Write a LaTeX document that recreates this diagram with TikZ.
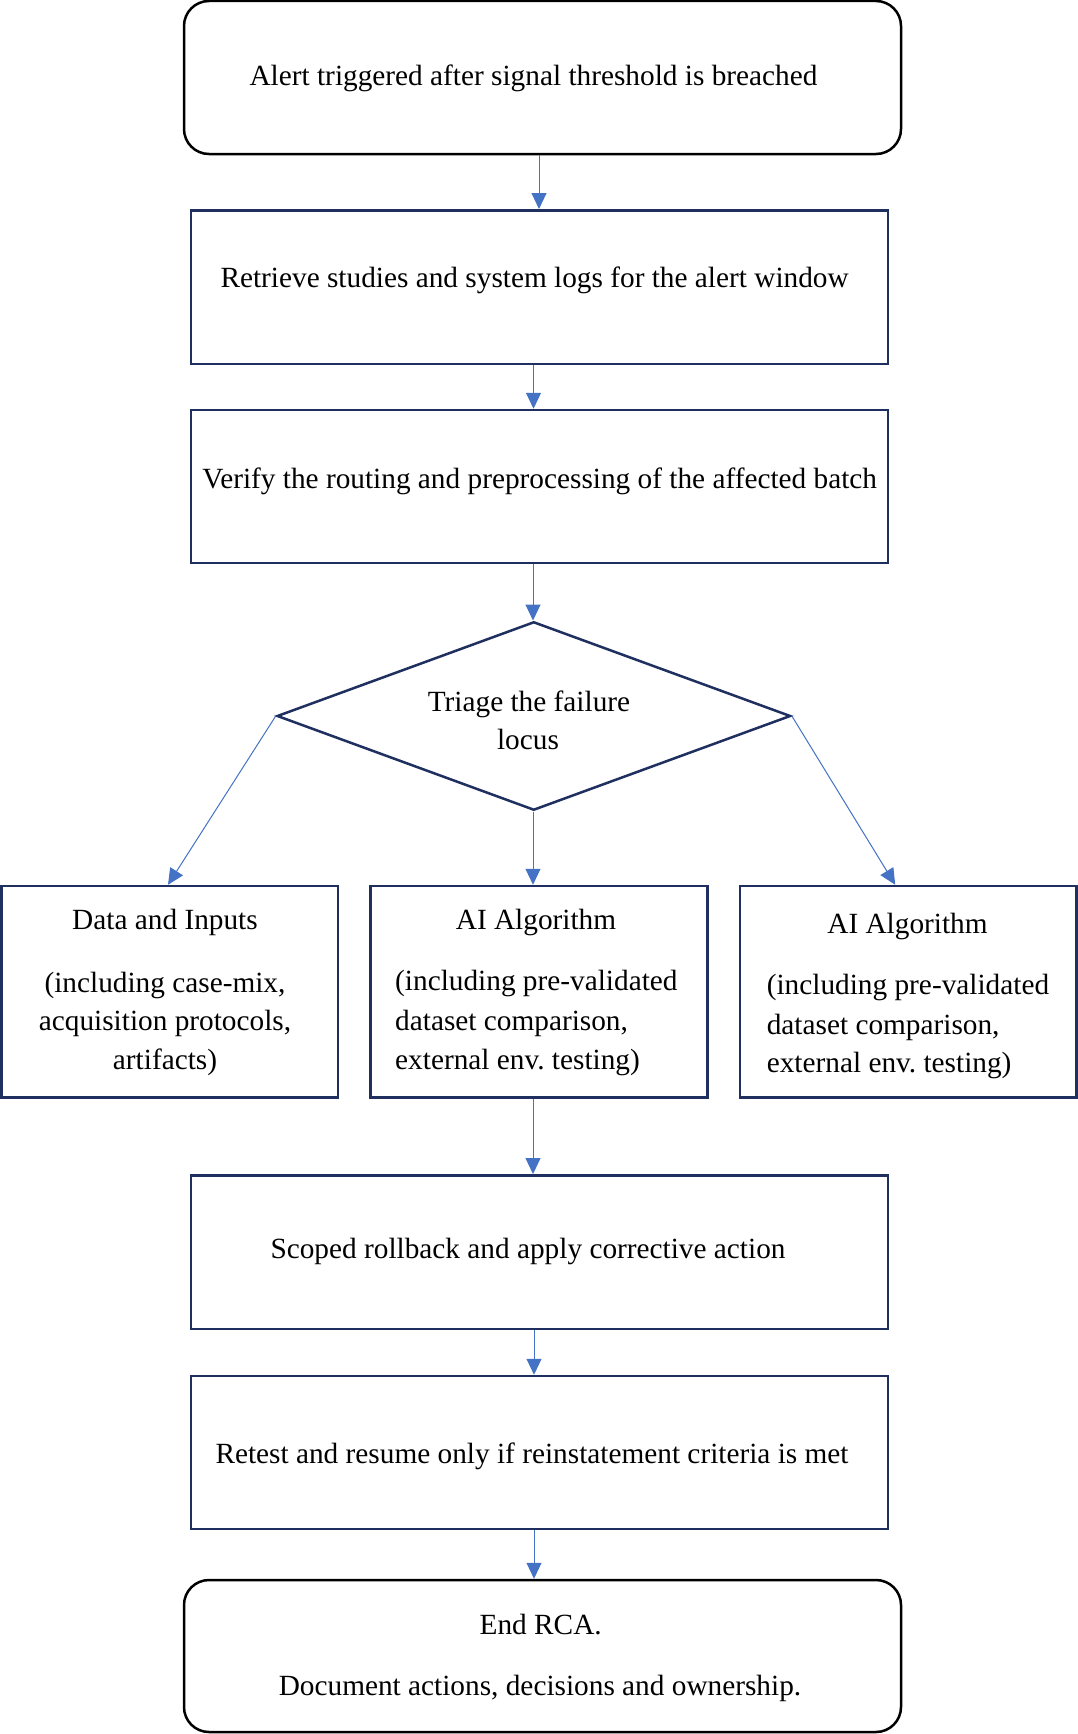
\documentclass[tikz,border=0pt]{standalone}
\usepackage{fontspec}
\setmainfont{Liberation Serif}
\usetikzlibrary{arrows.meta,shapes.geometric}
\definecolor{navy}{HTML}{1F3060}
\definecolor{arrowblue}{HTML}{4472C4}
\frenchspacing
\begin{document}
\begin{tikzpicture}[x=1pt,y=-1pt,
  every node/.style={font=\fontsize{29.3}{38}\selectfont},
  txt/.style={anchor=base,inner sep=0pt},
  txtl/.style={anchor=base west,inner sep=0pt},
  navybox/.style={draw=navy,line width=2.5pt,rectangle,inner sep=0pt},
  roundbox/.style={draw=black,line width=2.5pt,rectangle,rounded corners=25pt,inner sep=0pt},
  flow/.style={draw=arrowblue,line width=1pt,-{Triangle[length=16pt,width=15pt]}}
]
\useasboundingbox (0,0) rectangle (1078,1734);
\fill[white] (0,0) rectangle (1078,1734);

% boxes
\node[roundbox,minimum width=717pt,minimum height=153pt] (start) at (542.5,77.5) {};
\node[navybox,minimum width=697pt,minimum height=153.5pt] (retrieve) at (539.5,287) {};
\node[navybox,minimum width=697pt,minimum height=153pt] (verify) at (539.5,486.5) {};
\node[draw=navy,line width=2.5pt,diamond,inner sep=0pt,minimum width=513.6pt,minimum height=188.5pt] (triage) at (533.8,716) {};
\node[navybox,minimum width=336.6pt,minimum height=211.5pt] (data) at (169.7,991.75) {};
\node[navybox,minimum width=336.9pt,minimum height=211.5pt] (algo) at (539,991.75) {};
\node[navybox,minimum width=336.8pt,minimum height=211.5pt] (algob) at (908.2,991.75) {};
\node[navybox,minimum width=697pt,minimum height=153.5pt] (rollback) at (539.5,1252) {};
\node[navybox,minimum width=697pt,minimum height=153pt] (retest) at (539.5,1452.5) {};
\node[roundbox,minimum width=717pt,minimum height=152pt] (finish) at (542.5,1656) {};

% texts
\node[txt] (t1) at (533.5,86) {Alert triggered after signal threshold is breached};
\node[txt] (t2) at (534.6,287) {Retrieve studies and system logs for the alert window};
\node[txt] (t3) at (539.7,488) {Verify the routing and preprocessing of the affected batch};
\node[txt] (t4a) at (529,711) {Triage the failure};
\node[txt] (t4b) at (528,749) {locus};
\node[txt] (t5a) at (165,929) {Data and Inputs};
\node[txt] (t5b) at (165,992) {(including case-mix,};
\node[txt] (t5c) at (165,1030.5) {acquisition protocols,};
\node[txt] (t5d) at (165,1069) {artifacts)};
\node[txt] (t6a) at (536,929) {AI Algorithm};
\node[txtl] (t6b) at (395,990) {(including pre-validated};
\node[txtl] (t6c) at (395,1030.5) {dataset comparison,};
\node[txtl] (t6d) at (395,1069) {external env. testing)};
\node[txt] (t7a) at (907.5,933) {AI Algorithm};
\node[txtl] (t7b) at (766.6,994) {(including pre-validated};
\node[txtl] (t7c) at (766.6,1034) {dataset comparison,};
\node[txtl] (t7d) at (766.6,1072.6) {external env. testing)};
\node[txt] (t8) at (528,1258) {Scoped rollback and apply corrective action};
\node[txt] (t9) at (532,1463) {Retest and resume only if reinstatement criteria is met};
\node[txt] (t10a) at (540.7,1634) {End RCA.};
\node[txt] (t10b) at (540,1695.6) {Document actions, decisions and ownership.};

% connectors
\coordinate (a1) at (539,0);
\coordinate (a2) at (533.5,0);
\coordinate (a3) at (533,0);
\coordinate (a5) at (534,0);
\draw[flow] (start.south -| a1) -- (retrieve.north -| a1);
\draw[flow] (retrieve.south -| a2) -- (verify.north -| a2);
\draw[flow] (verify.south -| a3) -- (triage.north -| a3);
\draw[flow] (triage.west) -- ([xshift=-1.7pt]data.north);
\draw[flow] (triage.south -| a3) -- (algo.north -| a3);
\draw[flow] (triage.east) -- ([xshift=-13pt]algob.north);
\draw[flow] (algo.south -| a3) -- (rollback.north -| a3);
\draw[flow] (rollback.south -| a5) -- (retest.north -| a5);
\draw[flow] (retest.south -| a5) -- (finish.north -| a5);
\end{tikzpicture}
\end{document}
